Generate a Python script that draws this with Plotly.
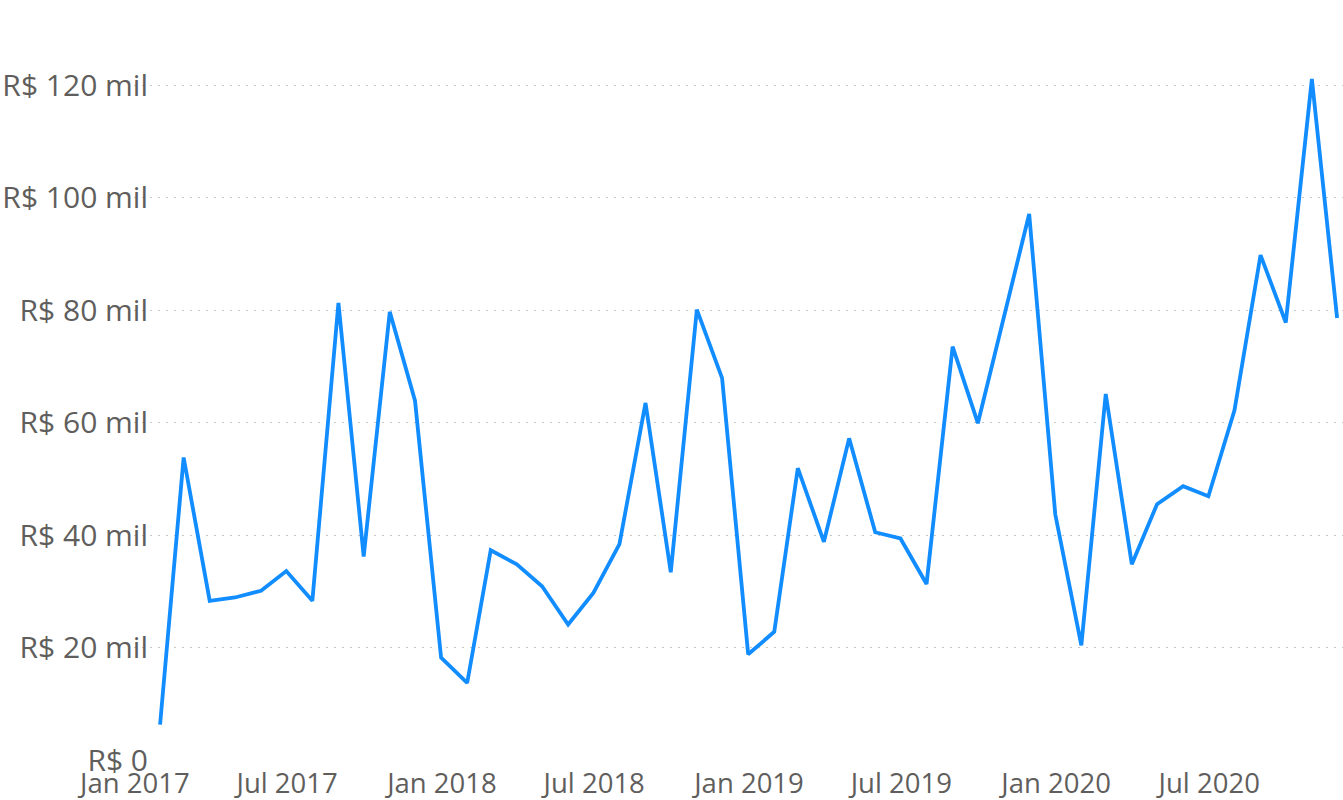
import pandas as pd
import plotly.graph_objects as go

# vendas mensais (em milhares de R$), fim de cada mês
meses = pd.date_range("2017-01-31", periods=47, freq="ME")
vendas_mil = [
    6.3, 53.8, 28.3, 28.9, 30.1, 33.6, 28.3, 81.3, 36.2, 79.7, 63.9, 18.2,
    13.7, 37.3, 34.8, 30.9, 24.1, 29.7, 38.4, 63.5, 33.4, 80.1, 67.9, 18.8,
    22.8, 51.9, 38.8, 57.2, 40.5, 39.4, 31.3, 73.5, 59.9, 78.8, 97.1, 43.7,
    20.4, 65.1, 34.8, 45.5, 48.7, 46.9, 62.2, 89.8, 77.8, 121.1, 78.6,
]

# eixo y
y_ticks = [0, 20, 40, 60, 80, 100, 120]
y_labels = ["R$ 0", "R$ 20 mil", "R$ 40 mil", "R$ 60 mil",
            "R$ 80 mil", "R$ 100 mil", "R$ 120 mil"]

cinza = "#605E5C"

fig = go.Figure()
fig.add_trace(go.Scatter(x=meses, y=vendas_mil, mode="lines",
                         line=dict(color="#118DFF", width=3.8),
                         hoverinfo="skip"))

fig.update_layout(width=1343, height=800,
                  margin=dict(l=134, r=0, t=29, b=40),
                  plot_bgcolor="white", paper_bgcolor="white",
                  showlegend=False,
                  font=dict(family="Open Sans", size=28, color=cinza))

fig.update_xaxes(range=["2016-12-31", "2020-12-07"],
                 tick0="2017-01-01", dtick="M6", tickformat="%b %Y",
                 showgrid=False, zeroline=False, showline=False, ticks="",
                 automargin=False, ticklabelstandoff=4,
                 tickfont=dict(size=27.5, color=cinza))

fig.update_yaxes(range=[0, 130], tickvals=y_ticks, ticktext=y_labels,
                 showgrid=True, gridcolor="#C8C6C4", gridwidth=1,
                 griddash="2px,6px", zeroline=False, showline=False, ticks="",
                 automargin=False, ticklabelstandoff=-15,
                 tickfont=dict(size=30, color=cinza))

# tira a margem padrão do body para a figura ocupar a janela inteira
fig.write_html("out.html", config={"displayModeBar": False},
               post_script="document.body.style.margin='0';")
